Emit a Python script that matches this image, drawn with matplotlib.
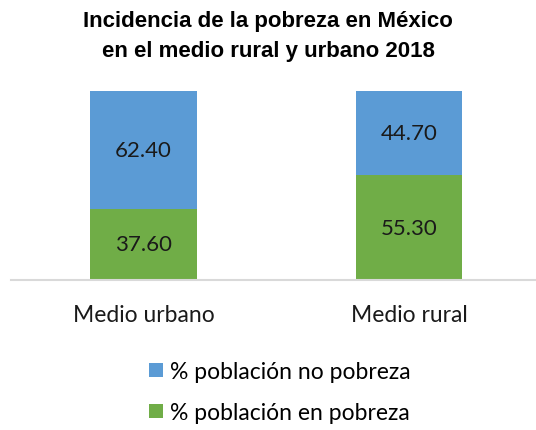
import matplotlib
matplotlib.use("Agg")
import matplotlib.pyplot as plt

# datos
categorias = ["Medio urbano", "Medio rural"]
en_pobreza = [37.60, 55.30]
no_pobreza = [62.40, 44.70]
etiquetas = ["% población no pobreza", "% población en pobreza"]

azul = "#5B9BD5"
verde = "#70AD47"
fuente = "Lato"

fig = plt.figure(figsize=(5.36, 4.31), dpi=100, facecolor="white")
ax = fig.add_axes([10.75 / 536, 1 - 281 / 431, 531 / 536, 189 / 431])

x = range(len(categorias))
b_verde = ax.bar(x, en_pobreza, width=0.40, color=verde, label=etiquetas[1])
b_azul = ax.bar(x, no_pobreza, width=0.40, bottom=en_pobreza, color=azul, label=etiquetas[0])

for barras in (b_verde, b_azul):
    ax.bar_label(barras, labels=["%.2f" % v for v in barras.datavalues],
                 label_type="center", fontsize=16, family=fuente, color="#1a1a1a")

ax.set_xlim(-0.5, 1.5)
ax.set_ylim(0, 100)
ax.set_xticks(list(x))
ax.set_xticklabels(categorias, fontsize=16.5, family=fuente, color="#1a1a1a")
ax.tick_params(axis="x", length=0, pad=17)
ax.set_yticks([])
for lado in ["top", "right", "left"]:
    ax.spines[lado].set_visible(False)
ax.spines["bottom"].set_color("#d9d9d9")
ax.spines["bottom"].set_linewidth(1.5)

fig.text(0.5, 1 - 21 / 431, "Incidencia de la pobreza en México", ha="center", va="center",
         fontsize=16, fontweight="bold", family="Liberation Sans")
fig.text(0.5, 1 - 51 / 431, "en el medio rural y urbano 2018", ha="center", va="center",
         fontsize=16, fontweight="bold", family="Liberation Sans")

h = [b_azul, b_verde]
fig.legend(h, etiquetas, loc="center", bbox_to_anchor=(280 / 536, 1 - 393 / 431), ncol=1,
           frameon=False, prop={"family": fuente, "size": 16.5}, handlelength=0.6,
           handleheight=0.6, handletextpad=0.3, labelspacing=0.87)

fig.savefig("out.png", dpi=100, facecolor="white")
